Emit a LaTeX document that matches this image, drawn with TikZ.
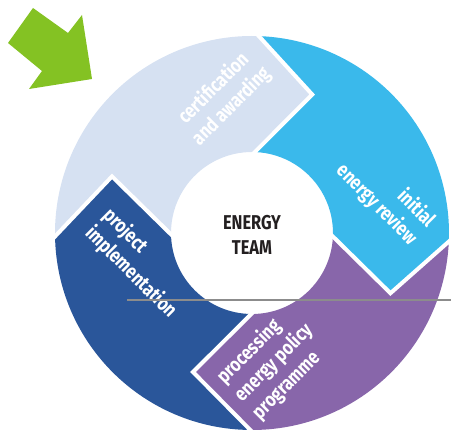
\documentclass[tikz,border=0pt]{standalone}
\usepackage{fontspec}
\setmainfont[FakeStretch=0.82]{Fira Sans}
\usetikzlibrary{calc}
\definecolor{segLight}{RGB}{214,225,242}
\definecolor{segCyan}{RGB}{58,185,235}
\definecolor{segPurple}{RGB}{136,102,170}
\definecolor{segDark}{RGB}{42,86,154}
\definecolor{arrowGreen}{RGB}{132,194,35}
\definecolor{ruleGray}{RGB}{140,140,140}
\definecolor{teamText}{RGB}{35,31,32}
\newcommand\ringseg[5]{%
  \fill[#1] (#2:197pt) arc[start angle=#2,end angle=#3,radius=197pt]
    -- (#5:151pt) -- (#3:81pt) arc[start angle=#3,end angle=#2,radius=81pt]
    -- (#4:151pt) -- cycle;}
\newcommand\ringgap[2]{%
  \draw[white,line width=4pt,line join=miter]
    ($(#2:151pt)!1.12!(#1:197pt)$) -- (#2:151pt) -- ($(#2:151pt)!1.15!(#1:81pt)$);}
\begin{document}
\begin{tikzpicture}[x=1pt,y=1pt,
  seglbl/.style={text=white,font=\bfseries\fontsize{20}{25}\selectfont,inner sep=0pt},
  teamlbl/.style={text=teamText,font=\bfseries\fontsize{20}{25}\selectfont,align=center,inner sep=0pt}]
\useasboundingbox (0,0) rectangle (451,437);
% green arrow
\fill[arrowGreen] (33,429) -- (68,404) -- (82,422) -- (92,358) -- (29,348) -- (42,366) -- (8,394) -- cycle;
% ring
\begin{scope}[shift={(252,204)}]
  \ringseg{segLight}{181}{88}{158}{66.5}
  \ringseg{segCyan}{88}{-2.5}{66.5}{-23.5}
  \ringseg{segPurple}{-2.5}{-90.5}{-23.5}{-113}
  \ringseg{segDark}{-90.5}{-179}{-113}{-202}
  \ringgap{88}{66.5}
  \ringgap{-2.5}{-23.5}
  \ringgap{-90.5}{-113}
  \ringgap{181}{158}
\end{scope}
% labels
\node[teamlbl] (team) at (252,202.5) {ENERGY\\TEAM};
\node[seglbl,rotate=45,align=center] (cert) at (222.5,339.5) {certification\\and awarding};
\node[seglbl,rotate=-45,align=right] (initial) at (385.4,241.1) {initial\\energy review};
\node[seglbl,rotate=-45,align=left] (project) at (139.7,173.6) {project\\implementation};
\node[seglbl,rotate=45,align=left] (processing) at (273.6,74.3) {processing\\energy policy\\programme};
% gray rule
\coordinate (ruleL) at (127,137);
\coordinate (ruleR) at (451,137);
\draw[ruleGray,line width=2pt] (ruleL) -- (ruleR);
\end{tikzpicture}
\end{document}
